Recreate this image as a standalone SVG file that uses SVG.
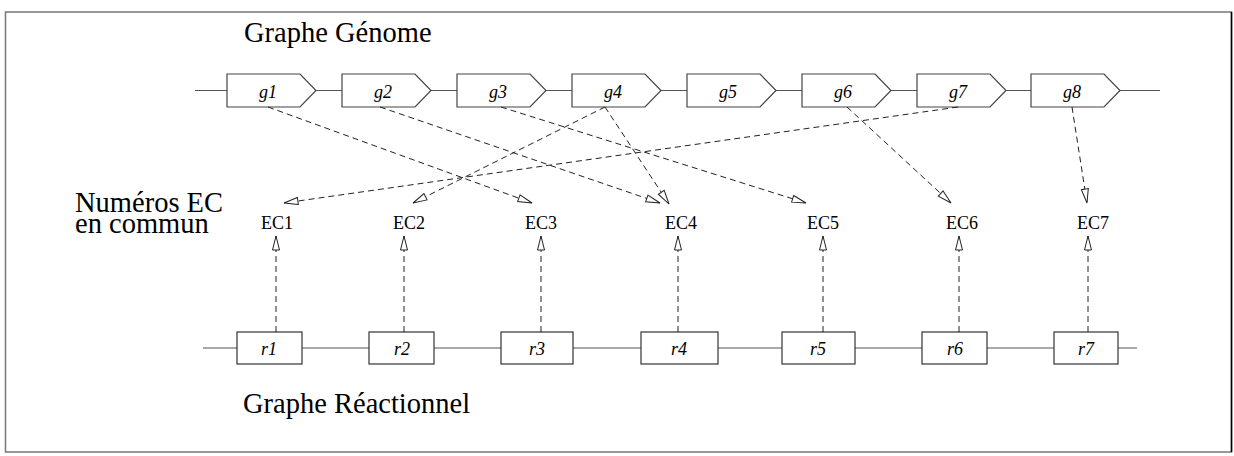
<svg xmlns="http://www.w3.org/2000/svg" width="1234" height="456" viewBox="0 0 1234 456">
<defs>
<style>
.title{font-family:"Liberation Serif","Times New Roman",serif;font-size:28.5px;fill:#000}
.ec{font-family:"Liberation Serif","Times New Roman",serif;font-size:18px;fill:#000;text-anchor:middle}
.lbl{font-family:"Liberation Serif","Times New Roman",serif;font-size:18px;font-style:italic;fill:#000;text-anchor:middle}
.gene{fill:#fff;stroke:#444;stroke-width:1.2}
.rbox{fill:#fff;stroke:#333;stroke-width:1.2}
.chain{stroke:#555;stroke-width:1.2;fill:none}
.dash{stroke:#222;stroke-width:1;stroke-dasharray:6 4;fill:none;marker-end:url(#tri)}
</style>
<marker id="tri" markerUnits="userSpaceOnUse" markerWidth="18" markerHeight="10" refX="15" refY="5" orient="auto" overflow="visible">
<path d="M1,1.5 L15,5 L1,8.5 z" fill="#fff" stroke="#222" stroke-width="1"/>
</marker>
</defs>
<rect x="5.5" y="12" width="1226" height="440" fill="#fff" stroke="#777" stroke-width="1.5"/>
<line x1="1231.5" y1="12" x2="1231.5" y2="452" stroke="#000" stroke-width="1.5"/>

<text class="title" x="244" y="42">Graphe Génome</text>
<text class="title" x="75" y="212">Numéros EC</text>
<text class="title" x="75" y="233">en commun</text>
<text class="title" x="243" y="413">Graphe Réactionnel</text>

<g id="chains">
<line class="chain" x1="195" y1="90.5" x2="1160" y2="90.5"/>
<line class="chain" x1="203" y1="348" x2="1137" y2="348"/>
</g>

<g id="g1"><path class="gene" d="M227,74 H300 L316,90.5 L300,107 H227 Z"/><text class="lbl" x="268" y="98">g1</text></g>
<g id="g2"><path class="gene" d="M342,74 H415 L431,90.5 L415,107 H342 Z"/><text class="lbl" x="383" y="98">g2</text></g>
<g id="g3"><path class="gene" d="M457,74 H530 L546,90.5 L530,107 H457 Z"/><text class="lbl" x="498" y="98">g3</text></g>
<g id="g4"><path class="gene" d="M572,74 H645 L661,90.5 L645,107 H572 Z"/><text class="lbl" x="613" y="98">g4</text></g>
<g id="g5"><path class="gene" d="M687,74 H760 L776,90.5 L760,107 H687 Z"/><text class="lbl" x="728" y="98">g5</text></g>
<g id="g6"><path class="gene" d="M802,74 H875 L891,90.5 L875,107 H802 Z"/><text class="lbl" x="843" y="98">g6</text></g>
<g id="g7"><path class="gene" d="M917,74 H990 L1006,90.5 L990,107 H917 Z"/><text class="lbl" x="958" y="98">g7</text></g>
<g id="g8"><path class="gene" d="M1031,74 H1104 L1120,90.5 L1104,107 H1031 Z"/><text class="lbl" x="1072" y="98">g8</text></g>

<g id="ec1"><text class="ec" x="277" y="229">EC1</text></g>
<g id="ec2"><text class="ec" x="409" y="229">EC2</text></g>
<g id="ec3"><text class="ec" x="541" y="229">EC3</text></g>
<g id="ec4"><text class="ec" x="681" y="229">EC4</text></g>
<g id="ec5"><text class="ec" x="823" y="229">EC5</text></g>
<g id="ec6"><text class="ec" x="962" y="229">EC6</text></g>
<g id="ec7"><text class="ec" x="1093" y="229">EC7</text></g>

<g id="r1"><rect class="rbox" x="237" y="332" width="65" height="32"/><text class="lbl" x="269" y="355">r1</text></g>
<g id="r2"><rect class="rbox" x="369" y="332" width="65" height="32"/><text class="lbl" x="402" y="355">r2</text></g>
<g id="r3"><rect class="rbox" x="501" y="332" width="72" height="32"/><text class="lbl" x="537" y="355">r3</text></g>
<g id="r4"><rect class="rbox" x="641" y="332" width="77" height="32"/><text class="lbl" x="679" y="355">r4</text></g>
<g id="r5"><rect class="rbox" x="782" y="332" width="73" height="32"/><text class="lbl" x="818" y="355">r5</text></g>
<g id="r6"><rect class="rbox" x="922" y="332" width="65" height="32"/><text class="lbl" x="955" y="355">r6</text></g>
<g id="r7"><rect class="rbox" x="1054" y="332" width="64" height="32"/><text class="lbl" x="1086" y="355">r7</text></g>

<g id="connectors">
<line class="dash" x1="268" y1="107" x2="532" y2="203"/>
<line class="dash" x1="380" y1="107" x2="660" y2="203"/>
<line class="dash" x1="501" y1="107" x2="806" y2="203"/>
<line class="dash" x1="605" y1="107" x2="413" y2="203"/>
<line class="dash" x1="605" y1="107" x2="669" y2="204"/>
<line class="dash" x1="847" y1="107" x2="951" y2="203"/>
<line class="dash" x1="958" y1="107" x2="284" y2="203"/>
<line class="dash" x1="1072" y1="107" x2="1087" y2="203"/>
<line class="dash" x1="276" y1="332" x2="276" y2="236"/>
<line class="dash" x1="404" y1="332" x2="404" y2="236"/>
<line class="dash" x1="541" y1="332" x2="541" y2="236"/>
<line class="dash" x1="678" y1="332" x2="678" y2="236"/>
<line class="dash" x1="823" y1="332" x2="823" y2="236"/>
<line class="dash" x1="959" y1="332" x2="959" y2="236"/>
<line class="dash" x1="1088" y1="332" x2="1088" y2="236"/>
</g>
</svg>
